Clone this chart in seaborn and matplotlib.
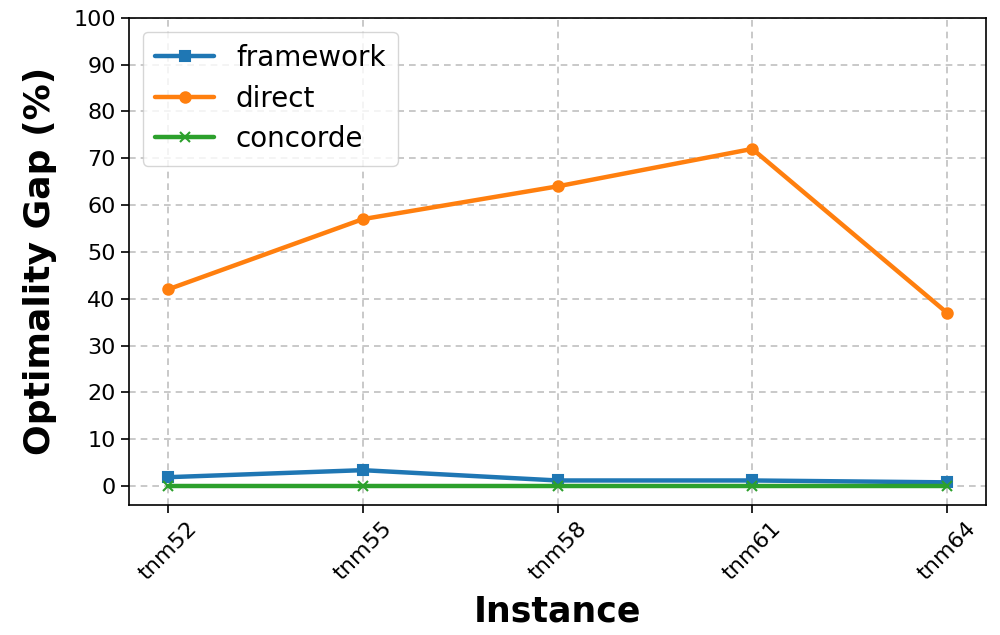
import matplotlib
matplotlib.use("Agg")
import matplotlib.pyplot as plt
import seaborn as sns
import pandas as pd

instances = ["tnm52", "tnm55", "tnm58", "tnm61", "tnm64"]
framework = [1.9, 3.4, 1.2, 1.2, 0.8]
direct = [42, 57, 64, 72, 37]
concorde = [0.0, 0.0, 0.0, 0.0, 0.0]

series = {"framework": framework, "direct": direct, "concorde": concorde}
markers = {"framework": "s", "direct": "o", "concorde": "x"}
colors = {"framework": "#1f77b4", "direct": "#ff7f0e", "concorde": "#2ca02c"}

rows = []
for name, vals in series.items():
    for i, v in zip(instances, vals):
        rows.append({"Instance": i, "Gap": v, "Method": name})
df = pd.DataFrame(rows)

sns.set_style("white")
plt.rcParams["font.family"] = ["DejaVu Sans"]
plt.rcParams["text.color"] = "black"
plt.rcParams["axes.labelcolor"] = "black"

fig = plt.figure(figsize=(10, 6.35), dpi=100)
ax = fig.add_axes([0.129, 0.205, 0.857, 0.767])

for name in series:
    sub = df[df["Method"] == name]
    sns.lineplot(data=sub, x="Instance", y="Gap", ax=ax, label=name,
                 color=colors[name], marker=markers[name], markersize=7.5,
                 markeredgecolor=colors[name], markeredgewidth=1.5,
                 linewidth=3.2, sort=False)

ax.set_ylim(-4, 100)
ax.set_yticks(range(0, 101, 10))
ax.grid(True, linestyle=(0, (4, 3)), color="#c0c0c0", linewidth=1.2)
for s in ax.spines.values():
    s.set_color("black")
    s.set_linewidth(1.2)
ax.tick_params(axis="both", which="both", direction="out", length=6, width=1.2,
               labelsize=16, colors="black", left=True, bottom=True)
plt.setp(ax.get_xticklabels(), rotation=45)
ax.set_xlabel("Instance", fontsize=25, fontweight="bold", labelpad=8)
ax.set_ylabel("Optimality Gap (%)", fontsize=26, fontweight="bold", labelpad=12)
leg = ax.legend(loc="upper left", fontsize=20, frameon=True, handlelength=2.1,
                borderpad=0.45, labelspacing=0.45, handletextpad=0.8,
                bbox_to_anchor=(0.0, 1.0))
for t in leg.get_texts():
    t.set_color("black")

fig.savefig("out.png", dpi=100)
